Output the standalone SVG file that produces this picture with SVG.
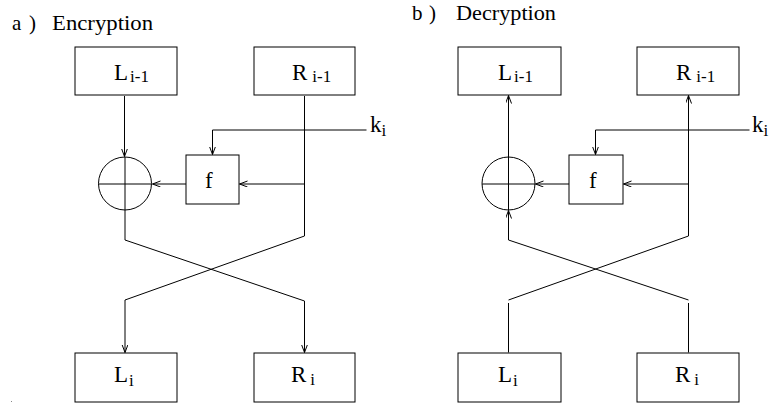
<svg xmlns="http://www.w3.org/2000/svg" width="772" height="405" viewBox="0 0 772 405">
<style>
.box{fill:#fff;stroke:#000;stroke-width:1}
.ln{fill:none;stroke:#000;stroke-width:1}
.t{font-family:"Liberation Serif","Times New Roman",serif;font-size:23px;fill:#000}
.h{font-size:21px}
.s{font-size:17px}
.arr{marker-end:url(#ah)}
</style>
<defs>
<marker id="ah" markerUnits="userSpaceOnUse" markerWidth="10" markerHeight="8" refX="8" refY="3" orient="auto">
<path d="M0,0 L8,3 L0,6" fill="none" stroke="#000" stroke-width="1"/>
</marker>
</defs>
<rect width="772" height="405" fill="#fff"/>
<g id="title-a"><text class="t h" x="12" y="30">a</text><text class="t h" x="29" y="30">)</text><text class="t h" x="52" y="30" textLength="101" lengthAdjust="spacingAndGlyphs">Encryption</text></g>
<g id="title-b"><text class="t h" x="412" y="20">b</text><text class="t h" x="429" y="20">)</text><text class="t h" x="456" y="20" textLength="100" lengthAdjust="spacingAndGlyphs">Decryption</text></g>

<g id="enc-L-prev"><rect class="box" x="75" y="47" width="102" height="48"/><text class="t" x="114" y="80">L<tspan class="s" dy="1.5" dx="2">i-1</tspan></text></g>
<g id="enc-R-prev"><rect class="box" x="254" y="47" width="101" height="48"/><text class="t" x="292" y="80">R<tspan class="s" dy="1.5" dx="5">i-1</tspan></text></g>
<g id="enc-xor"><circle class="ln" cx="125" cy="183.5" r="26.5"/><line class="ln" x1="125" y1="157" x2="125" y2="210"/><line class="ln" x1="98.5" y1="184" x2="151.5" y2="184"/></g>
<g id="enc-f"><rect class="box" x="186" y="155" width="53" height="49"/><text class="t" x="205" y="188">f</text></g>
<g id="enc-k"><text class="t" x="370" y="132">k<tspan class="s" dy="4" dx="0">i</tspan></text></g>
<g id="enc-L"><rect class="box" x="75" y="353" width="102" height="49"/><text class="t" x="114" y="382">L<tspan class="s" dy="4" dx="1">i</tspan></text></g>
<g id="enc-R"><rect class="box" x="254" y="353" width="101" height="49"/><text class="t" x="291" y="382">R<tspan class="s" dy="3" dx="4">i</tspan></text></g>

<g id="dec-L-prev"><rect class="box" x="458" y="47" width="103" height="48"/><text class="t" x="498" y="80">L<tspan class="s" dy="1.5" dx="2">i-1</tspan></text></g>
<g id="dec-R-prev"><rect class="box" x="637" y="47" width="102" height="48"/><text class="t" x="676" y="80">R<tspan class="s" dy="1.5" dx="5">i-1</tspan></text></g>
<g id="dec-xor"><circle class="ln" cx="508.5" cy="183.5" r="26.5"/><line class="ln" x1="508.5" y1="157" x2="508.5" y2="210"/><line class="ln" x1="482" y1="184" x2="535" y2="184"/></g>
<g id="dec-f"><rect class="box" x="569" y="155" width="54" height="49"/><text class="t" x="589" y="188">f</text></g>
<g id="dec-k"><text class="t" x="752" y="132">k<tspan class="s" dy="4" dx="0">i</tspan></text></g>
<g id="dec-L"><rect class="box" x="458" y="353" width="103" height="49"/><text class="t" x="498" y="382">L<tspan class="s" dy="4" dx="1">i</tspan></text></g>
<g id="dec-R"><rect class="box" x="637" y="353" width="102" height="49"/><text class="t" x="675" y="382">R<tspan class="s" dy="3" dx="4">i</tspan></text></g>

<g id="connectors">
<line class="ln arr" x1="124.5" y1="96" x2="124.5" y2="156.5"/>
<polyline class="ln arr" points="304.5,96 304.5,236 125,300 125,352.5"/>
<line class="ln arr" x1="304.5" y1="184" x2="239.5" y2="184"/>
<line class="ln arr" x1="186" y1="184" x2="152.5" y2="184"/>
<polyline class="ln arr" points="366.5,130 212.5,130 212.5,154.5"/>
<polyline class="ln arr" points="125,210 125,240 304.5,301 304.5,352.5"/>

<line class="ln arr" x1="508.5" y1="157" x2="508.5" y2="95.5"/>
<line class="ln" x1="508.5" y1="352.5" x2="508.5" y2="303"/>
<polyline class="ln arr" points="508.5,300 688.5,236 688.5,95.5"/>
<line class="ln" x1="688.5" y1="352.5" x2="688.5" y2="303"/>
<polyline class="ln arr" points="688.5,300 508.5,240 508.5,210.5"/>
<line class="ln arr" x1="688.5" y1="184" x2="623.5" y2="184"/>
<line class="ln arr" x1="569" y1="184" x2="535.5" y2="184"/>
<polyline class="ln arr" points="749.5,130 595.5,130 595.5,154.5"/>
</g>
<rect x="11" y="401" width="1" height="1" fill="#888"/>
</svg>
